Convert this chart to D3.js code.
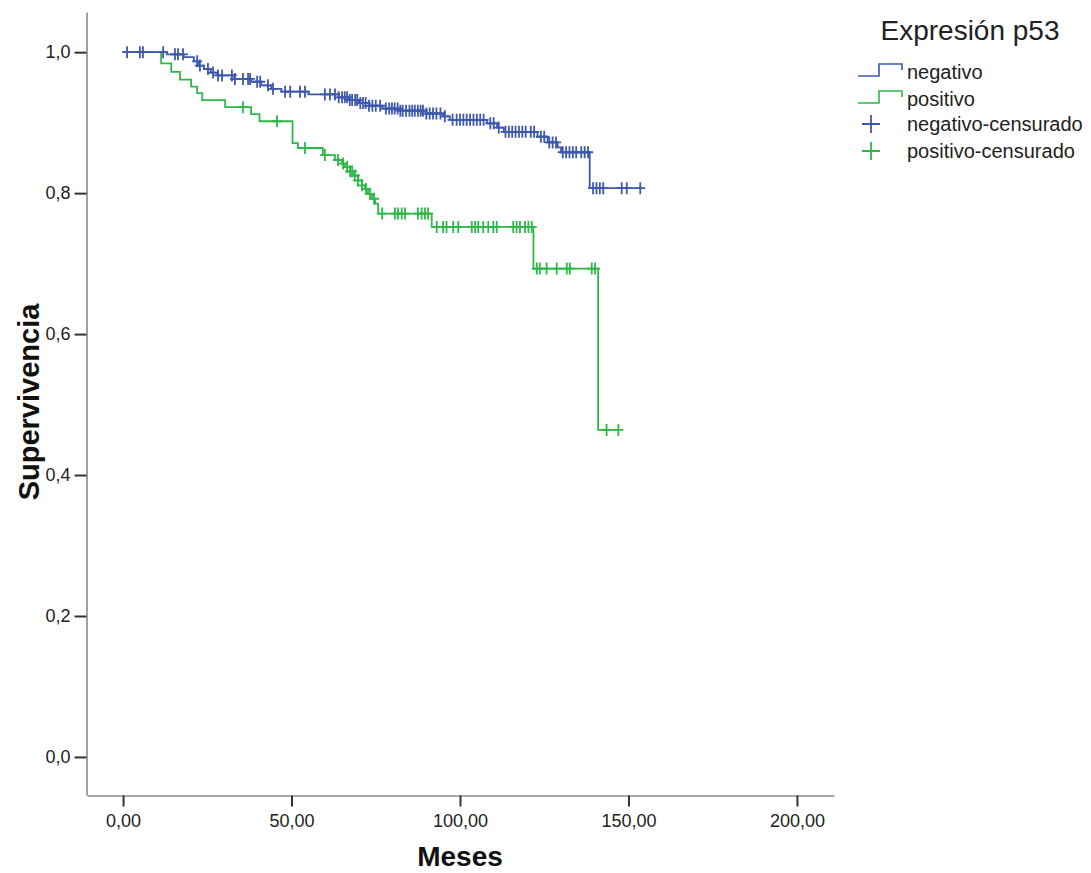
<!DOCTYPE html>
<html>
<head>
<meta charset="utf-8">
<script src="https://cdn.jsdelivr.net/npm/d3@7"></script>
<style>
  html, body { margin: 0; padding: 0; background: #ffffff; }
  svg { display: block; }
  text { font-family: "Liberation Sans", Arial, sans-serif; }
</style>
</head>
<body>
<svg id="chart" width="1091" height="873"></svg>
<script>
// ---- data ----
const xTicks = [0, 50, 100, 150, 200];
const yTicks = [0, 0.2, 0.4, 0.6, 0.8, 1.0];
const seriesNames = ["negativo", "positivo"];
const legendTitle = "Expresión p53";
const legendLabels = ["negativo", "positivo", "negativo-censurado", "positivo-censurado"];

// Kaplan-Meier steps: time (meses) and survival after the event
const negTimes = [0, 13, 18, 21, 22.5, 24, 26, 28, 33, 38, 41, 44, 47, 55, 64, 67, 70, 73, 77, 82, 90, 95, 97, 108, 111, 113, 123, 126, 129, 130, 138.5];
const negSurv  = [1.0, 0.997, 0.993, 0.987, 0.981, 0.976, 0.971, 0.967, 0.962, 0.958, 0.953, 0.948, 0.944, 0.940, 0.936, 0.932, 0.928, 0.924, 0.920, 0.917, 0.913, 0.909, 0.904, 0.899, 0.893, 0.887, 0.880, 0.872, 0.865, 0.858, 0.807];
const negCensored = [1.2, 5.0, 5.9, 11.9, 15.4, 16.3, 17.8, 22, 22.8, 25.2, 26.7, 28.2, 29.4, 32.3, 33.2, 35.6, 37.1, 37.7, 39.8, 40.7, 43, 44.5, 48.1, 49.6, 52.5, 54, 59.9, 61.4, 62.9,
  64, 65, 65.8, 66.5, 67.3, 68, 68.9, 69.5, 70.4, 71.2, 72, 73, 74, 75, 76.3,
  78, 79, 79.8, 80.6, 81.5, 82.3, 83, 84, 85, 85.8, 86.6, 87.5, 88.3, 89, 90, 91, 92, 93, 94.2, 95.5,
  97.8, 99, 100, 101, 102, 103, 104, 105, 106, 107,
  109, 110, 111.5, 113.5, 114.5, 115.5, 116.5, 117.5, 118.5, 119.5, 121, 122, 124, 125, 126.5, 127.5, 128.5,
  130.5, 131.5, 132.5, 133.5, 134.5, 136, 137, 138,
  139.5, 140.5, 141.5, 142.5, 148, 149.5, 153.5];

const posTimes = [0, 11.3, 14.3, 16.9, 20.2, 22.0, 23.5, 30.3, 38.0, 40.5, 50.3, 51.9, 59.3, 62.9, 65.0, 65.9, 67.4, 68.2, 69.7, 70.9, 71.8, 72.7, 73.9, 74.8, 75.7, 91.6, 121.8, 141.0];
const posSurv  = [1.0, 0.984, 0.972, 0.961, 0.951, 0.942, 0.932, 0.922, 0.912, 0.902, 0.871, 0.864, 0.854, 0.847, 0.842, 0.837, 0.831, 0.825, 0.818, 0.811, 0.806, 0.799, 0.792, 0.785, 0.771, 0.752, 0.693, 0.464];
const posCensored = [35.6, 45.7, 54, 59.9, 63.8, 65.3, 66.5, 67.4, 68, 68.8, 69.7, 70.9, 72.1, 73.3, 74.5,
  76.9, 80.7, 81.6, 82.7, 83.7, 87.5, 88.6, 89.6, 90.5,
  93.1, 95, 96, 98, 99.5, 103.5, 104.5, 105.4, 106.9, 108.4, 109.9, 110.9, 115.8, 116.8, 117.8, 119.3, 120.3, 121.3,
  122.8, 123.7, 125.7, 128.7, 131.7, 132.6, 139.1, 140.1, 143.5, 147];

// ---- styles ----
const colors = ["#3e58ac", "#2eb848"];

const svg = d3.select("#chart");

const x = d3.scaleLinear().domain([-10.7, 211]).range([87, 834]);
const y = d3.scaleLinear().domain([-0.054, 1.057]).range([795, 12]);

const fmtX = d => d3.format(".2f")(d).replace(".", ",");
const fmtY = d => d3.format(".1f")(d).replace(".", ",");

// axes
const gx = svg.append("g").attr("transform", "translate(0,795.5)")
  .call(d3.axisBottom(x).tickValues(xTicks).tickFormat(fmtX).tickSize(11).tickSizeOuter(0).tickPadding(8));
const gy = svg.append("g").attr("transform", "translate(86.5,0)")
  .call(d3.axisLeft(y).tickValues(yTicks).tickFormat(fmtY).tickSize(12).tickSizeOuter(0).tickPadding(4));
[gx, gy].forEach(g => {
  g.select(".domain").attr("stroke", "#8a8a8a").attr("stroke-width", 1.6);
  g.selectAll(".tick line").attr("stroke", "#333333").attr("stroke-width", 2);
  g.selectAll(".tick text").attr("fill", "#222222").style("font-size", "18px")
    .style("font-family", "'Liberation Sans', Arial, sans-serif");
});

// axis titles
svg.append("text").attr("x", 460).attr("y", 866).attr("text-anchor", "middle")
  .style("font-size", "28px").style("font-weight", "bold").attr("fill", "#111").text("Meses");
svg.append("text").attr("transform", "translate(39,402) rotate(-90)").attr("text-anchor", "middle")
  .style("font-size", "29px").style("font-weight", "bold").attr("fill", "#111").text("Supervivencia");

// survival curves
function buildSeries(times, surv, cens) {
  const pts = times.map((t, i) => [t, surv[i]]);
  const last = Math.max(d3.max(cens), d3.max(times));
  pts.push([last, surv[surv.length - 1]]);
  return pts;
}
function survAt(times, surv, t) {
  let s = surv[0];
  for (let i = 0; i < times.length; i++) if (times[i] <= t) s = surv[i];
  return s;
}
const line = d3.line().x(d => x(d[0])).y(d => y(d[1])).curve(d3.curveStepAfter);

const groups = [
  { times: negTimes, surv: negSurv, cens: negCensored, color: colors[0] },
  { times: posTimes, surv: posSurv, cens: posCensored, color: colors[1] }
];
// draw positive first, negative on top
[groups[1], groups[0]].forEach(g => {
  svg.append("path").datum(buildSeries(g.times, g.surv, g.cens))
    .attr("fill", "none").attr("stroke", g.color).attr("stroke-width", 1.8).attr("d", line);
  const cg = svg.append("g").attr("stroke", g.color).attr("stroke-width", 1.8);
  g.cens.forEach(t => {
    const cx = x(t), cy = y(survAt(g.times, g.surv, t));
    cg.append("path").attr("d", `M${cx - 5},${cy}H${cx + 5}M${cx},${cy - 6}V${cy + 6}`);
  });
});

// legend
const lg = svg.append("g");
lg.append("text").attr("x", 970).attr("y", 40).attr("text-anchor", "middle")
  .style("font-size", "28px").attr("fill", "#222").text(legendTitle);
const rowsY = [76, 103];
seriesNames.forEach((n, i) => {
  const yy = rowsY[i];
  lg.append("path").attr("d", `M858,${yy}H879V${yy - 12}H902V${yy - 6}`)
    .attr("fill", "none").attr("stroke", colors[i]).attr("stroke-width", 1.6);
  lg.append("text").attr("x", 907).attr("y", yy + 3).style("font-size", "20px").attr("fill", "#222").text(legendLabels[i]);
});
const censY = [124, 151];
seriesNames.forEach((n, i) => {
  const yy = censY[i];
  lg.append("path").attr("d", `M862,${yy}H880M871,${yy - 9}V${yy + 9}`)
    .attr("stroke", colors[i]).attr("stroke-width", 1.8);
  lg.append("text").attr("x", 907).attr("y", yy + 7).style("font-size", "20px").attr("fill", "#222").text(legendLabels[i + 2]);
});
</script>
</body>
</html>
